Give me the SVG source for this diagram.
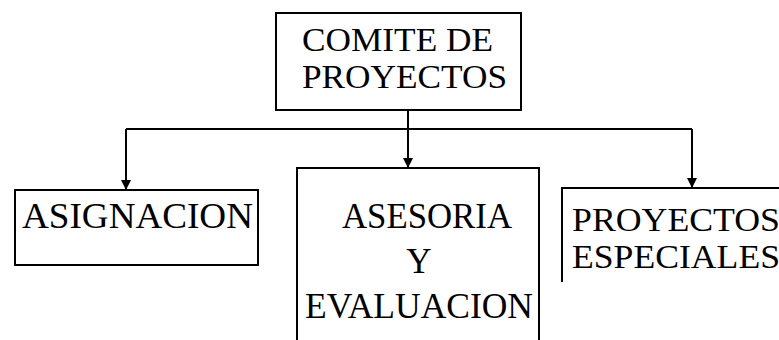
<svg xmlns="http://www.w3.org/2000/svg" width="779" height="340" viewBox="0 0 779 340">
<style>
.box{fill:none;stroke:#000;stroke-width:2}
.ln{fill:none;stroke:#000;stroke-width:2}
text{font-family:"Liberation Serif","Times New Roman",serif;font-size:35px;fill:#000}
.tight{font-size:33px}
</style>
<defs>
<marker id="ah" viewBox="0 0 10 10" refX="10" refY="5" markerWidth="5" markerHeight="5" orient="auto" markerUnits="strokeWidth">
<path d="M0,0 L10,5 L0,10 z" fill="#000"/>
</marker>
</defs>
<rect width="779" height="340" fill="#fff"/>
<g id="connectors">
<path class="ln" d="M408,110 V129"/>
<path class="ln" d="M126,129 H692"/>
<path class="ln" d="M126,129 V190" marker-end="url(#ah)"/>
<path class="ln" d="M408,129 V168" marker-end="url(#ah)"/>
<path class="ln" d="M692,129 V188" marker-end="url(#ah)"/>
</g>
<g id="comite">
<rect class="box" x="276" y="13" width="245" height="97"/>
<text class="tight" x="302" y="51" textLength="191" lengthAdjust="spacingAndGlyphs">COMITE DE</text>
<text class="tight" x="302" y="88" textLength="205" lengthAdjust="spacingAndGlyphs">PROYECTOS</text>
</g>
<g id="asignacion">
<rect class="box" x="15" y="190" width="243" height="75"/>
<text x="22" y="228" textLength="231" lengthAdjust="spacingAndGlyphs">ASIGNACION</text>
</g>
<g id="asesoria">
<path class="box" d="M297,345 V168 H539 V345"/>
<text x="342" y="228" textLength="170" lengthAdjust="spacingAndGlyphs">ASESORIA</text>
<text x="419" y="273" text-anchor="middle">Y</text>
<text x="305" y="318" textLength="228" lengthAdjust="spacingAndGlyphs">EVALUACION</text>
</g>
<g id="especiales">
<path class="box" d="M562,282 V188 H781"/>
<text class="tight" x="572" y="231" textLength="208" lengthAdjust="spacingAndGlyphs">PROYECTOS</text>
<text class="tight" x="572" y="268" textLength="208" lengthAdjust="spacingAndGlyphs">ESPECIALES</text>
</g>
</svg>
